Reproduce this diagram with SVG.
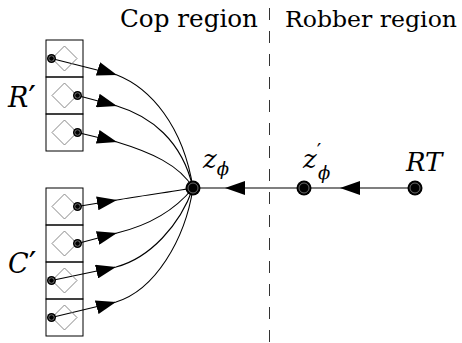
<svg xmlns="http://www.w3.org/2000/svg" width="462" height="343" viewBox="0 0 462 343">
<style>
.box{fill:none;stroke:#000;stroke-width:1}
.dia{fill:none;stroke:#888;stroke-width:1}
.con{fill:none;stroke:#000;stroke-width:1.1;marker-mid:url(#arr)}
.sd{fill:#000}
.ring{fill:none;stroke:#999;stroke-width:0.7}
.t{font-family:"DejaVu Serif",serif;fill:#000}
.mi{font-family:"DejaVu Serif",serif;font-style:italic;fill:#000}
.up{font-style:normal}
</style>
<defs>
<marker id="arr" markerUnits="userSpaceOnUse" viewBox="0 0 20 14" markerWidth="20" markerHeight="14" refX="20" refY="7" orient="auto">
<path d="M0,0 L20,7 L0,14 z" fill="#000"/>
</marker>
</defs>
<g id="divider"><line x1="269.5" y1="8" x2="269.5" y2="343" stroke="#333" stroke-width="1" stroke-dasharray="12 11"/></g>
<g id="titles">
<text class="t" x="120" y="27" font-size="24" textLength="138" lengthAdjust="spacingAndGlyphs">Cop region</text>
<text class="t" x="285" y="27" font-size="23" textLength="172" lengthAdjust="spacingAndGlyphs">Robber region</text>
</g>
<g id="connectors">
<path class="con" d="M51.5,58.5 L117,75 C150,88 183,125 193,188"/>
<path class="con" d="M77.5,95.5 L117,106 C150,116 182,140 193,188"/>
<path class="con" d="M77.5,132.5 L117,142 C150,152 180,165 193,188"/>
<path class="con" d="M77.5,206.5 L117,200 C140,196 170,192 193,188"/>
<path class="con" d="M77.5,243.5 L117,233 C150,225 175,210 193,188"/>
<path class="con" d="M51.5,280.5 L116,267 C150,258 180,225 193,188"/>
<path class="con" d="M51.5,317.5 L116,302 C155,290 185,240 193,188"/>
<path class="con" d="M415,188 L340,188 L304,188"/>
<path class="con" d="M304,188 L225,188 L193,188"/>
</g>
<g id="Rprime">
<text class="mi" x="8" y="107" font-size="27">R<tspan class="up" font-size="34" dy="3">′</tspan></text>
<rect class="box" x="46" y="40" width="37" height="37"/>
<rect class="box" x="46" y="77" width="37" height="37"/>
<rect class="box" x="46" y="114" width="37" height="37"/>
<path class="dia" d="M64.5,46 L77,58.5 L64.5,71 L52,58.5 z"/>
<path class="dia" d="M64.5,83 L77,95.5 L64.5,108 L52,95.5 z"/>
<path class="dia" d="M64.5,120 L77,132.5 L64.5,145 L52,132.5 z"/>
<circle class="sd" cx="51.5" cy="58.5" r="4.5"/><circle class="ring" cx="51.5" cy="58.5" r="2.7"/>
<circle class="sd" cx="77.5" cy="95.5" r="4.5"/><circle class="ring" cx="77.5" cy="95.5" r="2.7"/>
<circle class="sd" cx="77.5" cy="132.5" r="4.5"/><circle class="ring" cx="77.5" cy="132.5" r="2.7"/>
</g>
<g id="Cprime">
<text class="mi" x="8" y="273" font-size="27">C<tspan class="up" font-size="34" dy="3">′</tspan></text>
<rect class="box" x="46" y="188" width="37" height="37"/>
<rect class="box" x="46" y="225" width="37" height="37"/>
<rect class="box" x="46" y="262" width="37" height="37"/>
<rect class="box" x="46" y="299" width="37" height="37"/>
<path class="dia" d="M64.5,194 L77,206.5 L64.5,219 L52,206.5 z"/>
<path class="dia" d="M64.5,231 L77,243.5 L64.5,256 L52,243.5 z"/>
<path class="dia" d="M64.5,268 L77,280.5 L64.5,293 L52,280.5 z"/>
<path class="dia" d="M64.5,305 L77,317.5 L64.5,330 L52,317.5 z"/>
<circle class="sd" cx="77.5" cy="206.5" r="4.5"/><circle class="ring" cx="77.5" cy="206.5" r="2.7"/>
<circle class="sd" cx="77.5" cy="243.5" r="4.5"/><circle class="ring" cx="77.5" cy="243.5" r="2.7"/>
<circle class="sd" cx="51.5" cy="280.5" r="4.5"/><circle class="ring" cx="51.5" cy="280.5" r="2.7"/>
<circle class="sd" cx="51.5" cy="317.5" r="4.5"/><circle class="ring" cx="51.5" cy="317.5" r="2.7"/>
</g>
<g id="zphi">
<circle class="sd" cx="193" cy="188" r="7.5"/><circle class="ring" cx="193" cy="188" r="5"/>
<text class="mi" x="203" y="168" font-size="26">z<tspan font-size="18" dy="7">ϕ</tspan></text>
</g>
<g id="zphiprime">
<circle class="sd" cx="304" cy="188" r="7.5"/><circle class="ring" cx="304" cy="188" r="5"/>
<text class="mi" x="303" y="168" font-size="26">z<tspan class="up" font-size="20" dy="-10">′</tspan><tspan x="318" dy="21" font-size="18">ϕ</tspan></text>
</g>
<g id="RT">
<circle class="sd" cx="415" cy="188" r="7.5"/><circle class="ring" cx="415" cy="188" r="5"/>
<text class="mi" x="406" y="171" font-size="26">RT</text>
</g>
</svg>
